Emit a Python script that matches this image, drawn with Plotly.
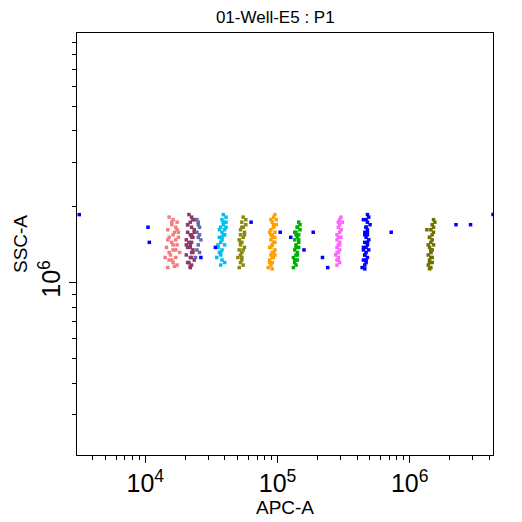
import plotly.graph_objects as go

# log10 APC-A / log10 SSC-A per population
c1_x = [4.18,4.21,4.24,4.20,4.23,4.17,4.25,4.21,4.18,4.23,4.20,4.24,4.16,4.21,4.26,4.19,4.23,4.18,4.21,4.24,4.17,4.20,4.22,4.25,4.21,4.18,4.20,4.23,4.15,4.24,4.17,4.22]
c1_y = [6.26,6.25,6.24,6.23,6.22,6.21,6.20,6.19,6.18,6.17,6.16,6.15,6.14,6.13,6.12,6.11,6.10,6.09,6.08,6.07,6.06,6.24,6.20,6.18,6.15,6.12,6.09,6.13,6.10,6.21,6.17,6.065]
c2_x = [4.33,4.35,4.37,4.34,4.32,4.35,4.37,4.32,4.34,4.36,4.31,4.35,4.34,4.32,4.36,4.35,4.31,4.34,4.37,4.33,4.35,4.34,4.32,4.37,4.35,4.33,4.34,4.36,4.35,4.32,4.34,4.36,4.31,4.35]
c2_y = [6.27,6.26,6.25,6.24,6.23,6.22,6.21,6.20,6.19,6.18,6.17,6.16,6.15,6.14,6.13,6.12,6.11,6.10,6.09,6.08,6.07,6.06,6.23,6.20,6.18,6.16,6.14,6.12,6.10,6.08,6.065,6.25,6.15,6.19]
c2b_x = [4.39,4.40,4.41,4.39,4.40,4.42,4.40,4.39,4.41,4.40,4.38,4.41]
c2b_y = [6.25,6.23,6.22,6.20,6.18,6.17,6.15,6.13,6.12,6.24,6.10,6.19]
c3_x = [4.59,4.61,4.58,4.61,4.59,4.57,4.60,4.58,4.60,4.56,4.58,4.57,4.60,4.55,4.58,4.56,4.57,4.54,4.58,4.60,4.57,4.59,4.56,4.58,4.55,4.57,4.61,4.59]
c3_y = [6.27,6.26,6.25,6.24,6.23,6.22,6.21,6.20,6.19,6.18,6.17,6.16,6.15,6.14,6.13,6.12,6.11,6.10,6.09,6.08,6.07,6.24,6.21,6.18,6.15,6.12,6.22,6.19]
c4_x = [4.74,4.76,4.73,4.76,4.74,4.72,4.75,4.72,4.74,4.71,4.73,4.72,4.75,4.71,4.73,4.72,4.70,4.73,4.72,4.74,4.71,4.73,4.75,4.72,4.74,4.73]
c4_y = [6.26,6.25,6.24,6.23,6.22,6.21,6.20,6.19,6.18,6.17,6.16,6.15,6.14,6.13,6.12,6.11,6.10,6.09,6.08,6.07,6.06,6.22,6.19,6.16,6.13,6.10]
c5_x = [4.98,4.97,4.99,4.96,4.99,4.97,4.95,4.98,4.96,4.98,4.95,4.97,4.96,4.94,4.98,4.96,4.95,4.97,4.94,4.96,4.95,4.93,4.96,4.95,4.97,4.94,4.96,4.98,4.95,4.97,4.96,4.94,4.97,4.95,4.96,4.98]
c5_y = [6.27,6.26,6.25,6.24,6.23,6.22,6.21,6.20,6.19,6.18,6.17,6.16,6.15,6.14,6.13,6.12,6.11,6.10,6.09,6.08,6.07,6.06,6.055,6.25,6.22,6.20,6.18,6.16,6.14,6.12,6.10,6.08,6.23,6.19,6.15,6.11]
c6_x = [5.16,5.17,5.15,5.17,5.14,5.16,5.15,5.13,5.16,5.14,5.16,5.13,5.15,5.14,5.12,5.15,5.13,5.14,5.12,5.15,5.13,5.16,5.14,5.15,5.13,5.14]
c6_y = [6.24,6.23,6.22,6.21,6.20,6.19,6.18,6.17,6.16,6.15,6.14,6.13,6.12,6.11,6.10,6.09,6.08,6.07,6.06,6.22,6.20,6.17,6.14,6.11,6.09,6.19]
c7_x = [5.48,5.47,5.49,5.47,5.46,5.48,5.47,5.45,5.48,5.45,5.47,5.46,5.45,5.47,5.46,5.44,5.46,5.45,5.47,5.45,5.46,5.48,5.46,5.47,5.45,5.46]
c7_y = [6.26,6.25,6.24,6.23,6.22,6.21,6.20,6.19,6.18,6.17,6.16,6.15,6.14,6.13,6.12,6.11,6.10,6.09,6.08,6.07,6.24,6.21,6.18,6.15,6.12,6.09]
c8_x = [5.68,5.69,5.67,5.68,5.70,5.67,5.68,5.66,5.68,5.67,5.69,5.66,5.68,5.67,5.65,5.67,5.66,5.68,5.65,5.67,5.66,5.64,5.66,5.65,5.67,5.66,5.68,5.69,5.66,5.67,5.65,5.68]
c8_y = [6.27,6.26,6.25,6.24,6.23,6.22,6.21,6.20,6.19,6.18,6.17,6.16,6.15,6.14,6.13,6.12,6.11,6.10,6.09,6.08,6.07,6.06,6.055,6.25,6.22,6.19,6.16,6.13,6.11,6.09,6.14,6.20]
c9_x = [6.18,6.19,6.17,6.18,6.16,6.18,6.17,6.15,6.17,6.16,6.18,6.15,6.17,6.16,6.14,6.16,6.15,6.17,6.14,6.16,6.15,6.13,6.15,6.14,6.16,6.17,6.15,6.16]
c9_y = [6.25,6.24,6.23,6.22,6.21,6.20,6.19,6.18,6.17,6.16,6.15,6.14,6.13,6.12,6.11,6.10,6.09,6.08,6.07,6.06,6.055,6.21,6.18,6.15,6.12,6.10,6.08,6.13]
stray_x = [4.02,4.03,3.50,6.63,5.02,5.27,5.34,5.38,5.86,6.35,6.46,5.20,4.42,4.53,4.80,5.10]
stray_y = [6.22,6.16,6.27,6.27,6.20,6.20,6.10,6.06,6.20,6.23,6.23,6.13,6.10,6.14,6.24,6.18]

groups = [
    (c1_x, c1_y, "#f08080"), (c2_x, c2_y, "#8b3a66"), (c2b_x, c2b_y, "#6a6aaa"),
    (c3_x, c3_y, "#00c0f0"), (c4_x, c4_y, "#8a8a10"), (c5_x, c5_y, "#ffa000"),
    (c6_x, c6_y, "#00b000"), (c7_x, c7_y, "#ff66ff"), (c8_x, c8_y, "#0000ff"),
    (c9_x, c9_y, "#707000"), (stray_x, stray_y, "#0000ff"),
]

fig = go.Figure()
for gx, gy, col in groups:
    fig.add_trace(go.Scatter(x=[10**v for v in gx], y=[10**v for v in gy], mode="markers",
                             marker=dict(color=col, size=3.5, symbol="square"), showlegend=False))

ax = dict(type="log", showgrid=False, zeroline=False, showline=True, linecolor="black",
          linewidth=1, mirror=True, ticks="outside", ticklen=7, tickcolor="black",
          dtick=1, exponentformat="power",
          minor=dict(ticks="outside", ticklen=4, dtick="D1", tickcolor="black", showgrid=False),
          tickfont=dict(size=20, color="black"))
fig.update_layout(
    width=522, height=522, plot_bgcolor="white", paper_bgcolor="white",
    margin=dict(l=62, r=37, t=25, b=75),
    font=dict(family="Liberation Sans, Arial", color="black"),
    title=dict(text="01-Well-E5 : P1", x=0.512, xanchor="center", y=0.982, yanchor="middle",
               font=dict(size=17)),
    xaxis=dict(ax, range=[3.483, 6.63], title=dict(text="APC-A", font=dict(size=19), standoff=2)),
    yaxis=dict(ax, range=[5.317, 6.99], tickangle=-90,
               title=dict(text="SSC-A", font=dict(size=19), standoff=0)),
)
fig.write_html("out.html")
